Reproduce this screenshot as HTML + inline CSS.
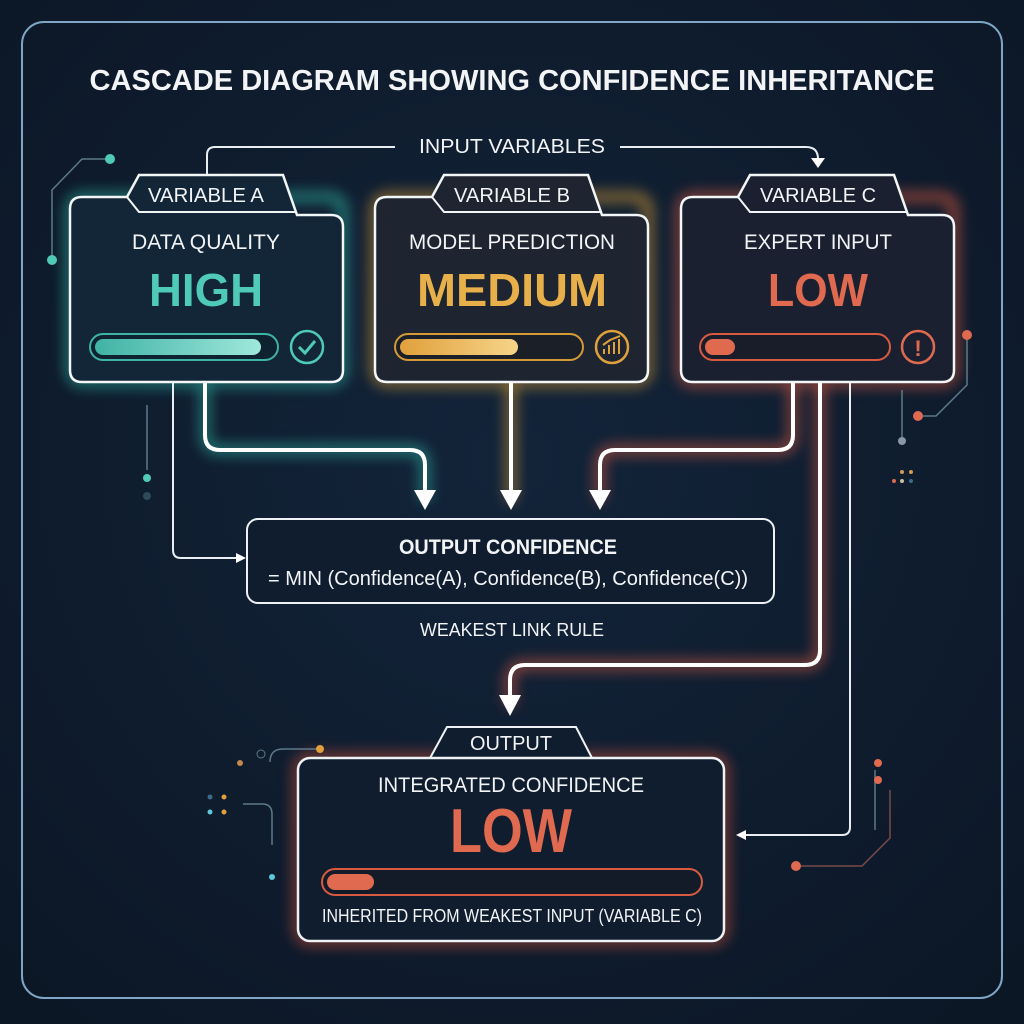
<!DOCTYPE html>
<html><head><meta charset="utf-8"><style>
html,body{margin:0;padding:0;background:#0e1a2b;}
svg{display:block}
text{font-family:"Liberation Sans",sans-serif;fill:#f2f4f6}
</style></head><body>
<svg width="1024" height="1024" viewBox="0 0 1024 1024" xmlns="http://www.w3.org/2000/svg">
<defs>
<radialGradient id="bg" cx="50%" cy="45%" r="70%"><stop offset="0" stop-color="#13243a"/><stop offset="1" stop-color="#0c1726"/></radialGradient>
<filter id="g" filterUnits="userSpaceOnUse" x="0" y="0" width="1024" height="1024"><feGaussianBlur stdDeviation="7"/></filter>
<linearGradient id="tg" x1="0" x2="1"><stop offset="0" stop-color="#3fb3a5"/><stop offset="1" stop-color="#9fe8dc"/></linearGradient>
<linearGradient id="ag" x1="0" x2="1"><stop offset="0" stop-color="#e0a13c"/><stop offset="1" stop-color="#f6d489"/></linearGradient>
</defs>
<rect width="1024" height="1024" fill="url(#bg)"/>
<rect x="22" y="22" width="980" height="976" rx="22" fill="none" stroke="#7fa6c4" stroke-width="2"/>
<text x="512" y="90" text-anchor="middle" font-size="29" font-weight="bold" textLength="845" lengthAdjust="spacingAndGlyphs">CASCADE DIAGRAM SHOWING CONFIDENCE INHERITANCE</text>

<!-- glows -->
<g filter="url(#g)" fill="none" stroke-width="8" opacity="0.8">
<rect x="70" y="197" width="273" height="185" rx="12" stroke="#2fb3a3"/>
<rect x="375" y="197" width="273" height="185" rx="12" stroke="#d39a35"/>
<rect x="681" y="197" width="273" height="185" rx="12" stroke="#d85a40"/>
<rect x="298" y="758" width="426" height="183" rx="12" stroke="#c95038"/>
<path d="M205 382 V435 Q205 450 220 450 H410 Q425 450 425 465 V500" stroke="#2fb3a3"/>
<path d="M511 382 V500" stroke="#d39a35"/>
<path d="M793 382 V435 Q793 450 778 450 H615 Q600 450 600 465 V500" stroke="#d85a40"/>
<path d="M820 382 V650 Q820 665 805 665 H525 Q510 665 510 680 V705" stroke="#d85a40"/>
</g>

<!-- input variables connector -->
<path d="M207 193 V155 Q207 147 215 147 H395" fill="none" stroke="#e8eef2" stroke-width="2"/>
<path d="M620 147 H806 Q818 147 818 159 V162" fill="none" stroke="#e8eef2" stroke-width="2"/>
<path d="M811 158 L825 158 L818 168 Z" fill="#fff"/>
<text x="512" y="153" text-anchor="middle" font-size="20" textLength="186" lengthAdjust="spacingAndGlyphs">INPUT VARIABLES</text>

<!-- thick connectors -->
<g fill="none" stroke="#fff" stroke-width="4">
<path d="M205 382 V435 Q205 450 220 450 H410 Q425 450 425 465 V495"/>
<path d="M511 382 V495"/>
<path d="M793 382 V435 Q793 450 778 450 H615 Q600 450 600 465 V495"/>
<path d="M820 382 V650 Q820 665 805 665 H525 Q510 665 510 680 V700"/>
</g>
<g fill="#fff">
<path d="M414 490 L436 490 L425 510 Z"/><path d="M500 490 L522 490 L511 510 Z"/><path d="M589 490 L611 490 L600 510 Z"/><path d="M499 695 L521 695 L510 716 Z"/>
</g>
<!-- thin connectors -->
<g fill="none" stroke="#e8eef2" stroke-width="2">
<path d="M173 382 V550 Q173 558 181 558 H240"/>
<path d="M850 382 V827 Q850 835 842 835 H742"/>
</g>
<path d="M236 553 L246 558 L236 563 Z" fill="#fff"/>
<path d="M746 830 L736 835 L746 840 Z" fill="#fff"/>

<!-- Box A -->
<path d="M82 197 H127 L139 175 H283 L297 215 H331 Q343 215 343 227 V370 Q343 382 331 382 H82 Q70 382 70 370 V209 Q70 197 82 197 Z" fill="#132638" stroke="#f2f6f6" stroke-width="2.5"/>
<path d="M127 197 L139 212 H297" fill="none" stroke="#f2f6f6" stroke-width="2"/>
<text x="206" y="202" text-anchor="middle" font-size="20" textLength="116" lengthAdjust="spacingAndGlyphs">VARIABLE A</text>
<text x="206" y="249" text-anchor="middle" font-size="21" textLength="148" lengthAdjust="spacingAndGlyphs">DATA QUALITY</text>
<text x="206" y="306" text-anchor="middle" font-size="46" font-weight="bold" style="fill:#4fc9b8" textLength="114" lengthAdjust="spacingAndGlyphs">HIGH</text>
<rect x="90" y="334" width="188" height="26" rx="13" fill="#0f2230" stroke="#3fb3a5" stroke-width="2"/>
<rect x="95" y="339" width="166" height="16" rx="8" fill="url(#tg)"/>
<circle cx="307" cy="347" r="16" fill="none" stroke="#4fc9b8" stroke-width="2.5"/>
<path d="M299 347 L305 353 L315 341" fill="none" stroke="#4fc9b8" stroke-width="3"/>

<!-- Box B -->
<path d="M387 197 H432 L444 175 H588 L602 215 H636 Q648 215 648 227 V370 Q648 382 636 382 H387 Q375 382 375 370 V209 Q375 197 387 197 Z" fill="#1e2430" stroke="#f2f6f6" stroke-width="2.5"/>
<path d="M432 197 L444 212 H602" fill="none" stroke="#f2f6f6" stroke-width="2"/>
<text x="512" y="202" text-anchor="middle" font-size="20" textLength="116" lengthAdjust="spacingAndGlyphs">VARIABLE B</text>
<text x="512" y="249" text-anchor="middle" font-size="21" textLength="206" lengthAdjust="spacingAndGlyphs">MODEL PREDICTION</text>
<text x="512" y="306" text-anchor="middle" font-size="46" font-weight="bold" style="fill:#e8b04a" textLength="190" lengthAdjust="spacingAndGlyphs">MEDIUM</text>
<rect x="395" y="334" width="188" height="26" rx="13" fill="#1b1f28" stroke="#d39a35" stroke-width="2"/>
<rect x="400" y="339" width="118" height="16" rx="8" fill="url(#ag)"/>
<circle cx="612" cy="347" r="16" fill="none" stroke="#e0a13c" stroke-width="2.5"/>
<path d="M604 354 V349 M609 354 V345 M614 354 V342 M619 354 V339 M603 345 L610 340 L620 336" fill="none" stroke="#e0a13c" stroke-width="2"/>

<!-- Box C -->
<path d="M693 197 H738 L750 175 H894 L908 215 H942 Q954 215 954 227 V370 Q954 382 942 382 H693 Q681 382 681 370 V209 Q681 197 693 197 Z" fill="#1a2030" stroke="#f2f6f6" stroke-width="2.5"/>
<path d="M738 197 L750 212 H908" fill="none" stroke="#f2f6f6" stroke-width="2"/>
<text x="818" y="202" text-anchor="middle" font-size="20" textLength="116" lengthAdjust="spacingAndGlyphs">VARIABLE C</text>
<text x="818" y="249" text-anchor="middle" font-size="21" textLength="148" lengthAdjust="spacingAndGlyphs">EXPERT INPUT</text>
<text x="818" y="306" text-anchor="middle" font-size="46" font-weight="bold" style="fill:#e06a50" textLength="100" lengthAdjust="spacingAndGlyphs">LOW</text>
<rect x="700" y="334" width="190" height="26" rx="13" fill="#191d2a" stroke="#d85a40" stroke-width="2"/>
<rect x="705" y="339" width="30" height="16" rx="8" fill="#e06a50"/>
<circle cx="918" cy="347" r="16" fill="none" stroke="#e06a50" stroke-width="2.5"/>
<text x="918" y="356" text-anchor="middle" font-size="22" font-weight="bold" style="fill:#e06a50">!</text>

<!-- Output confidence -->
<rect x="247" y="519" width="527" height="84" rx="11" fill="#0f1d2f" stroke="#eef2f4" stroke-width="2"/>
<text x="508" y="554" text-anchor="middle" font-size="21" font-weight="bold" textLength="218" lengthAdjust="spacingAndGlyphs">OUTPUT CONFIDENCE</text>
<text x="508" y="585" text-anchor="middle" font-size="20" textLength="480" lengthAdjust="spacingAndGlyphs">= MIN (Confidence(A), Confidence(B), Confidence(C))</text>
<text x="512" y="636" text-anchor="middle" font-size="18" textLength="184" lengthAdjust="spacingAndGlyphs">WEAKEST LINK RULE</text>

<!-- Output box -->
<path d="M429 760 L447 727 H576 L593 760" fill="#0f1d2f" stroke="#eef2f4" stroke-width="2"/>
<text x="511" y="750" text-anchor="middle" font-size="20" textLength="82" lengthAdjust="spacingAndGlyphs">OUTPUT</text>
<rect x="298" y="758" width="426" height="183" rx="12" fill="#0f1d2f" stroke="#eef2f4" stroke-width="2.5"/>
<text x="511" y="792" text-anchor="middle" font-size="21" textLength="266" lengthAdjust="spacingAndGlyphs">INTEGRATED CONFIDENCE</text>
<text x="511" y="852" text-anchor="middle" font-size="62" font-weight="bold" style="fill:#e06a50" textLength="122" lengthAdjust="spacingAndGlyphs">LOW</text>
<rect x="322" y="869" width="380" height="26" rx="13" fill="#131b28" stroke="#d85a40" stroke-width="2"/>
<rect x="327" y="874" width="47" height="16" rx="8" fill="#e06a50"/>
<text x="512" y="922" text-anchor="middle" font-size="18" textLength="380" lengthAdjust="spacingAndGlyphs">INHERITED FROM WEAKEST INPUT (VARIABLE C)</text>

<!-- decorations -->
<g fill="none" stroke="#5d7a8a" stroke-width="1.5">
<path d="M110 159 H82 L52 190 V260"/>
<path d="M147 405 V470"/>
<path d="M918 416 H936 L967 385 V335"/>
<path d="M902 390 V437"/>
<path d="M270 762 Q270 749 283 749 H320"/>
<path d="M243 804 H262 Q272 804 272 814 V845"/>
<path d="M875 770 V830"/>
</g>
<circle cx="110" cy="159" r="5" fill="#4fc9b8"/><circle cx="52" cy="260" r="5" fill="#4fc9b8"/>
<circle cx="147" cy="478" r="4" fill="#4fc9b8"/><circle cx="147" cy="496" r="4" fill="#2f4a5a"/>
<circle cx="967" cy="335" r="5" fill="#e06a50"/><circle cx="918" cy="416" r="5" fill="#e06a50"/>
<circle cx="902" cy="441" r="4" fill="#8a98a6"/>
<circle cx="902" cy="472" r="2" fill="#d39a55"/><circle cx="911" cy="472" r="2" fill="#d39a55"/>
<circle cx="894" cy="481" r="2" fill="#e06a50"/><circle cx="902" cy="481" r="2" fill="#c8c0a0"/><circle cx="911" cy="481" r="2" fill="#3b6b8a"/>
<circle cx="320" cy="749" r="4" fill="#e0a13c"/><circle cx="261" cy="754" r="4" fill="none" stroke="#5d7a8a"/><circle cx="240" cy="763" r="3" fill="#c08a4a"/>
<circle cx="210" cy="797" r="2.5" fill="#3b6b8a"/><circle cx="224" cy="797" r="2.5" fill="#e0a13c"/><circle cx="210" cy="812" r="2.5" fill="#5ec8d8"/><circle cx="224" cy="812" r="2.5" fill="#e0a13c"/>
<circle cx="272" cy="877" r="3" fill="#5ec8d8"/>
<circle cx="878" cy="763" r="4" fill="#e06a50"/><circle cx="878" cy="780" r="4" fill="#e06a50"/>
<circle cx="796" cy="866" r="5" fill="#e06a50"/><path d="M801 866 H862 L890 838 V790" fill="none" stroke="#7a4a48" stroke-width="1.5"/>
</svg>
</body></html>
